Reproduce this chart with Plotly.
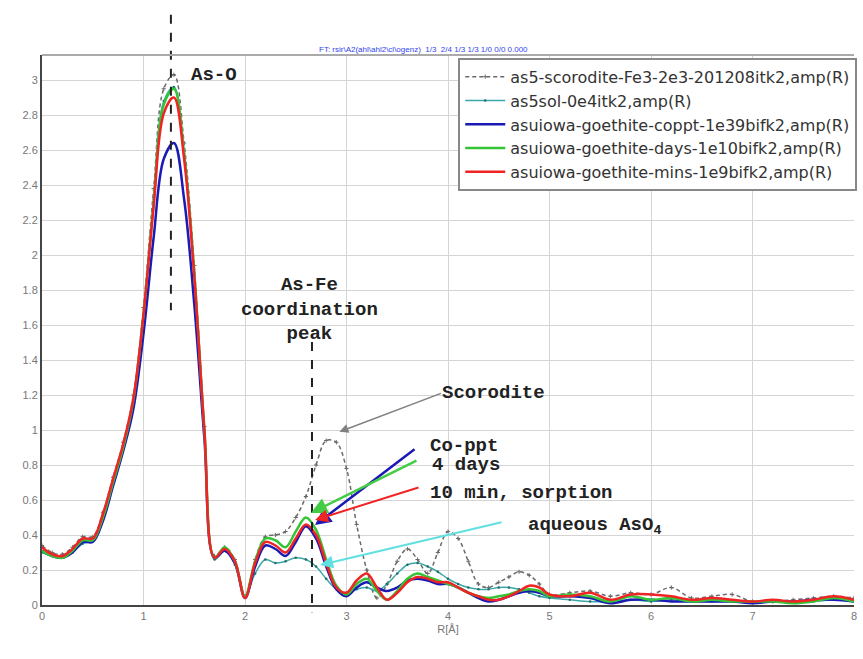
import plotly.graph_objects as go

R = [0.0, 0.1, 0.2, 0.3, 0.4, 0.5, 0.6, 0.7, 0.8, 0.9,
     1.0, 1.1, 1.2, 1.3, 1.4, 1.5, 1.6, 1.7, 1.8, 1.9,
     2.0, 2.1, 2.2, 2.3, 2.4, 2.5, 2.6, 2.7, 2.8, 2.9,
     3.0, 3.1, 3.2, 3.3, 3.4, 3.5, 3.6, 3.7, 3.8, 3.9,
     4.0, 4.1, 4.2, 4.3, 4.4, 4.5, 4.6, 4.7, 4.8, 4.9,
     5.0, 5.2, 5.4, 5.6, 5.8, 6.0, 6.2, 6.4, 6.6, 6.8,
     7.0, 7.2, 7.4, 7.6, 7.8, 8.0]

scorodite = [0.34, 0.30, 0.29, 0.33, 0.39, 0.39, 0.53, 0.73, 0.93, 1.20,
             1.70, 2.38, 2.95, 3.03, 2.64, 1.94, 1.02, 0.28, 0.33, 0.26,
             0.05, 0.26, 0.39, 0.40, 0.42, 0.50, 0.62, 0.80, 0.94, 0.93,
             0.78, 0.46, 0.20, 0.04, 0.12, 0.25, 0.32, 0.26, 0.18, 0.30,
             0.42, 0.38, 0.25, 0.12, 0.10, 0.13, 0.16, 0.19, 0.17, 0.12,
             0.06, 0.07, 0.08, 0.05, 0.07, 0.06, 0.10, 0.04, 0.05, 0.06,
             0.02, 0.02, 0.03, 0.04, 0.05, 0.04]

as5sol = [0.30, 0.28, 0.27, 0.30, 0.35, 0.37, 0.50, 0.70, 0.90, 1.16,
          1.66, 2.32, 2.88, 2.96, 2.58, 1.90, 1.00, 0.26, 0.31, 0.23,
          0.05, 0.18, 0.26, 0.24, 0.25, 0.27, 0.26, 0.22, 0.15, 0.09,
          0.07, 0.09, 0.10, 0.08, 0.12, 0.18, 0.23, 0.24, 0.22, 0.19,
          0.15, 0.12, 0.10, 0.09, 0.09, 0.10, 0.10, 0.09, 0.07, 0.05,
          0.04, 0.03, 0.02, 0.02, 0.03, 0.02, 0.03, 0.02, 0.02, 0.02,
          0.01, 0.02, 0.02, 0.02, 0.03, 0.02]

coppt = [0.31, 0.28, 0.27, 0.30, 0.36, 0.36, 0.48, 0.68, 0.88, 1.12,
         1.55, 2.10, 2.55, 2.64, 2.32, 1.72, 0.95, 0.27, 0.31, 0.24,
         0.04, 0.22, 0.34, 0.32, 0.28, 0.36, 0.45, 0.38, 0.22, 0.09,
         0.05, 0.10, 0.13, 0.10, 0.08, 0.10, 0.14, 0.15, 0.14, 0.12,
         0.12, 0.10, 0.07, 0.04, 0.02, 0.03, 0.05, 0.07, 0.08, 0.07,
         0.05, 0.05, 0.04, 0.01, 0.03, 0.03, 0.02, 0.02, 0.02, 0.02,
         0.01, 0.02, 0.02, 0.03, 0.03, 0.02]

days = [0.31, 0.28, 0.27, 0.31, 0.37, 0.37, 0.50, 0.70, 0.90, 1.17,
        1.66, 2.30, 2.86, 2.95, 2.58, 1.90, 1.00, 0.27, 0.33, 0.25,
        0.05, 0.25, 0.38, 0.37, 0.33, 0.42, 0.50, 0.43, 0.26, 0.11,
        0.06, 0.12, 0.15, 0.08, 0.03, 0.08, 0.15, 0.18, 0.16, 0.14,
        0.12, 0.10, 0.07, 0.05, 0.04, 0.05, 0.06, 0.08, 0.09, 0.08,
        0.05, 0.06, 0.05, 0.02, 0.05, 0.03, 0.04, 0.02, 0.03, 0.02,
        0.02, 0.02, 0.01, 0.02, 0.04, 0.02]

mins = [0.33, 0.29, 0.28, 0.32, 0.38, 0.38, 0.52, 0.72, 0.92, 1.18,
        1.66, 2.28, 2.81, 2.90, 2.55, 1.88, 1.00, 0.27, 0.32, 0.25,
        0.04, 0.24, 0.36, 0.34, 0.30, 0.38, 0.46, 0.40, 0.24, 0.10,
        0.07, 0.14, 0.18, 0.10, 0.03, 0.07, 0.13, 0.16, 0.15, 0.13,
        0.13, 0.10, 0.07, 0.05, 0.03, 0.03, 0.05, 0.08, 0.11, 0.10,
        0.06, 0.05, 0.07, 0.03, 0.06, 0.06, 0.05, 0.03, 0.04, 0.03,
        0.02, 0.03, 0.02, 0.03, 0.05, 0.03]

names = ["as5-scorodite-Fe3-2e3-201208itk2,amp(R)",
         "as5sol-0e4itk2,amp(R)",
         "asuiowa-goethite-coppt-1e39bifk2,amp(R)",
         "asuiowa-goethite-days-1e10bifk2,amp(R)",
         "asuiowa-goethite-mins-1e9bifk2,amp(R)"]

x_ticks = [0, 1, 2, 3, 4, 5, 6, 7, 8]
y_ticks = [0, 0.2, 0.4, 0.6, 0.8, 1, 1.2, 1.4, 1.6, 1.8, 2, 2.2, 2.4, 2.6, 2.8, 3]

fig = go.Figure()
fig.add_trace(go.Scatter(x=R, y=scorodite, name=names[0], mode="lines+markers",
                         line=dict(color="#6a6a6a", width=1.5, dash="4px,3px", shape="spline"),
                         marker=dict(symbol="cross-thin", size=3, line=dict(color="#6a6a6a", width=1))))
fig.add_trace(go.Scatter(x=R, y=as5sol, name=names[1], mode="lines+markers",
                         line=dict(color="#3aa8a8", width=1.5, shape="spline"),
                         marker=dict(size=2.5, color="#2a6a6a")))
fig.add_trace(go.Scatter(x=R, y=coppt, name=names[2], mode="lines",
                         line=dict(color="#1a1ab4", width=2.5, shape="spline")))
fig.add_trace(go.Scatter(x=R, y=days, name=names[3], mode="lines",
                         line=dict(color="#35c435", width=2.5, shape="spline")))
fig.add_trace(go.Scatter(x=R, y=mins, name=names[4], mode="lines",
                         line=dict(color="#f02424", width=2.5, shape="spline")))

mono = "Liberation Mono, Courier New, monospace"
txt = dict(family=mono, size=19, color="#222222")

ann = [
    dict(x=1.45, y=3.03, text="<b>As-O</b>", xanchor="left", yanchor="middle", showarrow=False, font=txt),
    dict(x=2.64, y=1.69, text="<b>As-Fe<br>coordination<br>peak</b>", xanchor="center", yanchor="middle",
         showarrow=False, font=txt),
    dict(x=3.92, y=1.21, text="<b>Scorodite</b>", xanchor="left", yanchor="middle", showarrow=False, font=txt),
    dict(x=3.80, y=0.91, text="<b>Co-ppt</b>", xanchor="left", yanchor="middle", showarrow=False, font=txt),
    dict(x=3.82, y=0.80, text="<b>4 days</b>", xanchor="left", yanchor="middle", showarrow=False, font=txt),
    dict(x=3.80, y=0.64, text="<b>10 min, sorption</b>", xanchor="left", yanchor="middle", showarrow=False, font=txt),
    dict(x=4.77, y=0.45, text="<b>aqueous AsO<sub>4</sub></b>", xanchor="left", yanchor="middle",
         showarrow=False, font=txt),
    # arrows (tip at curve, tail toward label)
    dict(x=2.93, y=0.99, text="", showarrow=True, ax=103, ay=-39, arrowhead=2, arrowsize=1.2,
         arrowwidth=1.5, arrowcolor="#808080"),
    dict(x=2.69, y=0.457, text="", showarrow=True, ax=101, ay=-77, arrowhead=2, arrowsize=1.3,
         arrowwidth=2.5, arrowcolor="#1a1ab4"),
    dict(x=2.65, y=0.526, text="", showarrow=True, ax=107, ay=-53, arrowhead=2, arrowsize=1.3,
         arrowwidth=2.5, arrowcolor="#45cc45"),
    dict(x=2.69, y=0.486, text="", showarrow=True, ax=105, ay=-33, arrowhead=2, arrowsize=1.3,
         arrowwidth=2, arrowcolor="#f02424"),
    dict(x=2.74, y=0.229, text="", showarrow=True, ax=183, ay=-43, arrowhead=2, arrowsize=1.3,
         arrowwidth=2, arrowcolor="#60e0e0"),
    # small title
    dict(x=0.47, y=1.022, xref="paper", yref="paper", showarrow=False,
         text="FT: rsir\\A2(ahl\\ahl2\\cl\\ogenz)  1/3  2/4 1/3 1/3 1/0 0/0 0.000",
         font=dict(family="Liberation Sans, Arial", size=8, color="#3344ee")),
]

shapes = [
    dict(type="line", xref="x", yref="paper", x0=1.27, x1=1.27, y0=1.073, y1=0.536,
         line=dict(color="#222222", width=2, dash="dash")),
    dict(type="line", xref="x", yref="paper", x0=2.66, x1=2.66, y0=0.478, y1=-0.013,
         line=dict(color="#222222", width=2, dash="dash")),
    dict(type="line", xref="paper", yref="paper", x0=0, x1=1, y0=1, y1=1,
         line=dict(color="#aaaaaa", width=2)),
]

fig.update_layout(
    width=863, height=659,
    margin=dict(l=42, r=6, t=55, b=54),
    paper_bgcolor="white", plot_bgcolor="white",
    showlegend=True,
    legend=dict(x=1.004, y=0.995, xanchor="right", yanchor="top",
                bgcolor="white", bordercolor="#888888", borderwidth=2,
                font=dict(family="DejaVu Sans, Verdana", size=16, color="#333333"),
                tracegroupgap=0, itemwidth=40),
    annotations=ann, shapes=shapes,
    font=dict(family="Liberation Sans, Arial", color="#666666"),
)
fig.update_xaxes(range=[0, 8], tickvals=x_ticks, ticktext=[str(v) for v in x_ticks],
                 showgrid=True, gridcolor="#d4d4d4", gridwidth=1, zeroline=False,
                 showline=True, linecolor="#444444", linewidth=2, ticks="",
                 tickfont=dict(size=11, color="#777777"),
                 title=dict(text="R[Å]", font=dict(size=11, color="#777777"), standoff=4))
fig.update_yaxes(range=[0, 3.143], tickvals=y_ticks, ticktext=[f"{v:g}" for v in y_ticks],
                 showgrid=True, gridcolor="#d4d4d4", gridwidth=1, zeroline=False,
                 showline=True, linecolor="#444444", linewidth=2, ticks="",
                 tickfont=dict(size=11, color="#777777"))

fig.write_html("out.html")
